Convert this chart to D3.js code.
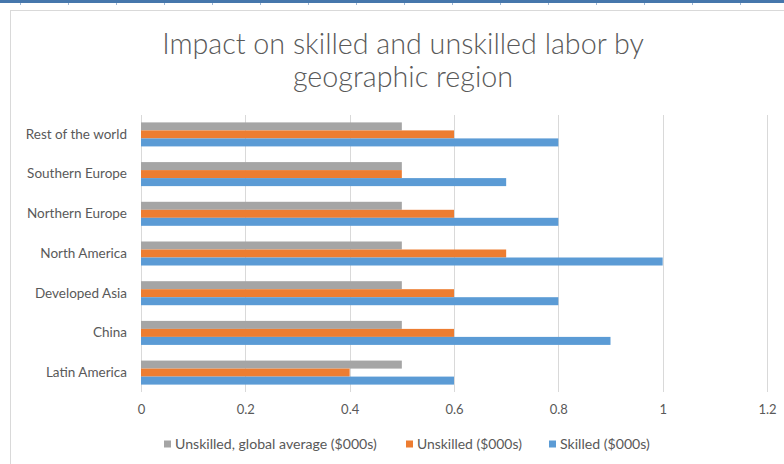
<!DOCTYPE html>
<html>
<head>
<meta charset="utf-8">
<script src="https://cdn.jsdelivr.net/npm/d3@7"></script>
<style>
  html, body { margin: 0; padding: 0; background: #fff; }
  svg { display: block; }
  text { font-family: Lato, "Open Sans", sans-serif; }
</style>
</head>
<body>
<svg id="chart" width="784" height="464"></svg>
<script>
// Regions, top to bottom as listed on the category axis
const regions = ["Rest of the world", "Southern Europe", "Northern Europe", "North America", "Developed Asia", "China", "Latin America"];
// Wages in $000s
const unskilledGlobalAvg = [0.5, 0.5, 0.5, 0.5, 0.5, 0.5, 0.5];
const unskilled = [0.6, 0.5, 0.6, 0.7, 0.6, 0.6, 0.4];
const skilled = [0.8, 0.7, 0.8, 1.0, 0.8, 0.9, 0.6];
const seriesNames = ["Unskilled, global average ($000s)", "Unskilled ($000s)", "Skilled ($000s)"];
const seriesColors = ["#A5A5A5", "#ED7D31", "#5B9BD5"];
const xTicks = [0, 0.2, 0.4, 0.6, 0.8, 1, 1.2];
const titleLines = ["Impact on skilled and unskilled labor by", "geographic region"];

const series = [unskilledGlobalAvg, unskilled, skilled];
const svg = d3.select("#chart");
const W = 784, H = 464;
const textColor = "#595959";

// Fit a text element to a given width by adjusting its font size
function fitWidth(sel, target) {
  const node = sel.node();
  const fs = parseFloat(sel.attr("font-size"));
  const w = node.getComputedTextLength();
  sel.attr("font-size", (fs * target / w).toFixed(2));
}

// Window frame strip along the top
svg.append("rect").attr("x", 0).attr("y", 0).attr("width", W).attr("height", 3).attr("fill", "#4677AC");
svg.append("g").selectAll("line")
  .data(d3.range(20, W, 48))
  .join("line")
  .attr("x1", d => d + 0.5).attr("x2", d => d + 0.5)
  .attr("y1", 3).attr("y2", 5)
  .attr("stroke", "#9db6d3").attr("stroke-width", 1);

// Chart area border
svg.append("rect")
  .attr("x", 10.5).attr("y", 10.5)
  .attr("width", W + 10).attr("height", H + 10)
  .attr("fill", "#fff").attr("stroke", "#D9D9D9").attr("stroke-width", 1);

// Title
const title = svg.append("g").attr("fill", textColor);
const t1 = title.append("text").attr("x", 403).attr("y", 54).attr("text-anchor", "middle")
  .attr("font-size", 28).attr("font-weight", 300).text(titleLines[0]);
fitWidth(t1, 482);
const t2 = title.append("text").attr("x", 403).attr("y", 87).attr("text-anchor", "middle")
  .attr("font-size", t1.attr("font-size")).attr("font-weight", 300).text(titleLines[1]);

// Scales
const x = d3.scaleLinear().domain([0, 1.2]).range([141, 767]);
const y = d3.scaleBand().domain(regions).range([115.25, 391.75]).paddingInner(0.395).paddingOuter(0.18);
const ySub = d3.scaleBand().domain(d3.range(series.length)).range([0, y.bandwidth()]);

// Vertical gridlines
svg.append("g").selectAll("line")
  .data(xTicks)
  .join("line")
  .attr("x1", d => Math.round(x(d)) + 0.5).attr("x2", d => Math.round(x(d)) + 0.5)
  .attr("y1", 115).attr("y2", 392)
  .attr("stroke", "#D9D9D9").attr("stroke-width", 1);

// Bars
const groups = svg.append("g").selectAll("g")
  .data(regions)
  .join("g")
  .attr("transform", d => `translate(0,${y(d)})`);
groups.selectAll("rect")
  .data((d, i) => series.map((s, k) => ({ k, v: s[i] })))
  .join("rect")
  .attr("x", x(0))
  .attr("y", d => ySub(d.k))
  .attr("width", d => x(d.v) - x(0))
  .attr("height", ySub.bandwidth())
  .attr("fill", d => seriesColors[d.k]);

// Category axis labels
const yAxis = d3.axisLeft(y).tickSize(0).tickPadding(14);
const gy = svg.append("g").attr("transform", `translate(${x(0)},0)`).call(yAxis);
gy.select(".domain").remove();
gy.selectAll("text").attr("fill", textColor).attr("font-size", 13.5).attr("font-family", "Lato, sans-serif");

// Value axis labels
const xAxis = d3.axisBottom(x).tickValues(xTicks).tickFormat(d3.format("~g")).tickSize(0).tickPadding(13);
const gx = svg.append("g").attr("transform", "translate(0,392)").call(xAxis);
gx.select(".domain").remove();
gx.selectAll("text").attr("fill", textColor).attr("font-size", 13).attr("font-family", "Lato, sans-serif");

// Legend
const legendX = [164, 406, 549];
const legendW = [213, 116, 101];
const leg = svg.append("g").selectAll("g")
  .data(seriesNames)
  .join("g")
  .attr("transform", (d, i) => `translate(${legendX[i]},444)`);
leg.append("rect").attr("x", 0).attr("y", -3.5).attr("width", 7).attr("height", 7)
  .attr("fill", (d, i) => seriesColors[i]);
leg.append("text").attr("x", 11).attr("y", 0).attr("dy", "0.35em")
  .attr("fill", textColor).attr("font-size", 12.5).text(d => d)
  .each(function(d, i) { fitWidth(d3.select(this), legendW[i] - 11); });
</script>
</body>
</html>
